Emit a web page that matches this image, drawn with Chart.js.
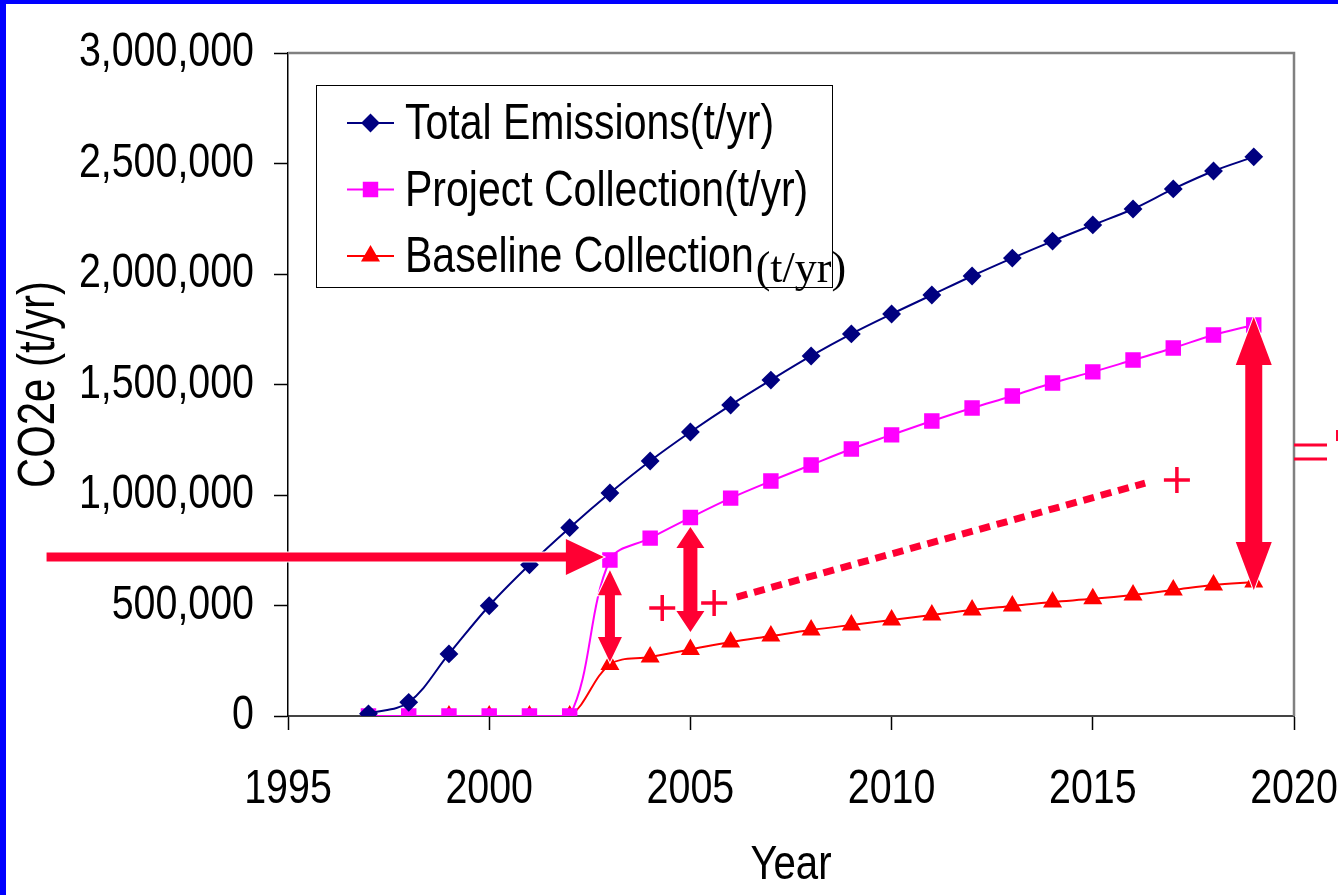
<!DOCTYPE html>
<html>
<head>
<meta charset="utf-8">
<script src="https://cdn.jsdelivr.net/npm/chart.js@4.4.1/dist/chart.umd.min.js"></script>
<style>
  html, body { margin: 0; padding: 0; background: #fff; }
  #frame { width: 1338px; height: 895px; box-sizing: border-box; border-left: 6px solid #0000ff; border-top: 4px solid #0000ff; }
  #frame canvas { display: block; }
</style>
</head>
<body>
<div id="frame"><canvas id="co2Chart" width="1332" height="891"></canvas></div>
<script>
const years = [1997, 1998, 1999, 2000, 2001, 2002, 2003, 2004, 2005, 2006, 2007, 2008,
               2009, 2010, 2011, 2012, 2013, 2014, 2015, 2016, 2017, 2018, 2019];
const totalEmissions = [10000, 62000, 281000, 499000, 684000, 852000, 1009000, 1154000, 1285000,
                        1407000, 1520000, 1629000, 1729000, 1819000, 1905000, 1991000, 2072000,
                        2149000, 2222000, 2294000, 2385000, 2466000, 2530000];
const projectCollection = [0, 0, 0, 0, 0, 0, 706000, 805000, 898000, 986000, 1063000, 1136000,
                           1208000, 1272000, 1335000, 1394000, 1448000, 1507000, 1557000,
                           1611000, 1665000, 1724000, 1769000];
const baselineCollection = [0, 0, 0, 0, 0, 0, 233000, 267000, 301000, 335000, 362000, 389000,
                            412000, 434000, 457000, 480000, 498000, 516000, 530000, 548000,
                            570000, 593000, 606000];
const seriesNames = ['Total Emissions(t/yr)', 'Project Collection(t/yr)', 'Baseline Collection'];
const yTicks = [0, 500000, 1000000, 1500000, 2000000, 2500000, 3000000];
const xTicks = [1995, 2000, 2005, 2010, 2015, 2020];

// hand-drawn overlay marks, in data units
const pointerArrow = [1989.0, 2002.85, 720000];            // xFrom, xTip, y
const gapArrows = [[2003, 660000, 244000], [2005, 855000, 380000], [2019, 1805000, 570000]];
const plusMarks = [[2004.3, 489000], [2005.59, 511000], [2017.09, 1068000]];
const dottedLine = [[2006.15, 538000], [2016.3, 1054000]];
const equalsMark = [2020.0, 2020.82, 1226000, 1163000];

const sansFont = "'Liberation Sans Narrow', 'Arial Narrow', 'Liberation Sans', Arial, sans-serif";
const serifFont = "'Liberation Serif', 'Times New Roman', serif";
const markColor = '#ff0033';
const narrow = 0.82;   // no narrow face installed, squeeze the sans text instead

const ctx = document.getElementById('co2Chart').getContext('2d');
const plainFillText = ctx.fillText;
ctx.fillText = function (text, x, y) {
   this.save();
   this.translate(x, y);
   this.scale(narrow, 1);
   plainFillText.call(this, text, 0, 0);
   this.restore();
};

function toPoints(vals) {
   return years.map((yr, i) => ({ x: yr, y: vals[i] }));
}

function fillPoly(c, pts) {
   c.beginPath();
   pts.forEach((p, i) => i ? c.lineTo(p[0], p[1]) : c.moveTo(p[0], p[1]));
   c.closePath();
   c.strokeStyle = '#fff';
   c.lineWidth = 2;
   c.stroke();
   c.fill();
}

const overlayPlugin = {
   id: 'overlay',
   afterDraw(chart) {
      const { ctx: c, chartArea: a, scales: { x, y } } = chart;
      const ds = chart.data.datasets;
      c.save();

      // plot frame, top and right
      c.strokeStyle = '#808080';
      c.lineWidth = 2.5;
      c.beginPath();
      c.moveTo(a.left, a.top);
      c.lineTo(a.right, a.top);
      c.lineTo(a.right, a.bottom);
      c.stroke();

      c.fillStyle = markColor;
      c.strokeStyle = markColor;

      // long pointer arrow
      const px1 = x.getPixelForValue(pointerArrow[0]);
      const px2 = x.getPixelForValue(pointerArrow[1]);
      const py = y.getPixelForValue(pointerArrow[2]);
      fillPoly(c, [[px1, py - 4.5], [px2 - 38, py - 4.5], [px2 - 38, py - 18], [px2, py],
                   [px2 - 38, py + 18], [px2 - 38, py + 4.5], [px1, py + 4.5]]);

      // double arrows between project and baseline
      const arrowSize = [[5, 12, 25], [7, 14, 21], [8.5, 18, 48]];
      c.fillStyle = markColor;
      gapArrows.forEach((g, i) => {
         const gx = x.getPixelForValue(g[0]);
         const t = y.getPixelForValue(g[1]);
         const b = y.getPixelForValue(g[2]);
         const [sw, hw, hl] = arrowSize[i];
         fillPoly(c, [[gx, t], [gx + hw, t + hl], [gx + sw, t + hl], [gx + sw, b - hl], [gx + hw, b - hl],
                      [gx, b], [gx - hw, b - hl], [gx - sw, b - hl], [gx - sw, t + hl], [gx - hw, t + hl]]);
      });

      // dotted line
      c.strokeStyle = markColor;
      c.lineWidth = 7;
      c.setLineDash([11, 7]);
      c.beginPath();
      c.moveTo(x.getPixelForValue(dottedLine[0][0]), y.getPixelForValue(dottedLine[0][1]));
      c.lineTo(x.getPixelForValue(dottedLine[1][0]), y.getPixelForValue(dottedLine[1][1]));
      c.stroke();
      c.setLineDash([]);

      // plus signs
      c.lineWidth = 3.5;
      plusMarks.forEach(p => {
         const cx = x.getPixelForValue(p[0]);
         const cy = y.getPixelForValue(p[1]);
         c.beginPath();
         c.moveTo(cx - 13, cy); c.lineTo(cx + 13, cy);
         c.moveTo(cx, cy - 13); c.lineTo(cx, cy + 13);
         c.stroke();
      });

      // equals sign past the right edge
      c.lineWidth = 3;
      const ex1 = x.getPixelForValue(equalsMark[0]);
      const ex2 = x.getPixelForValue(equalsMark[1]);
      c.beginPath();
      [equalsMark[2], equalsMark[3]].forEach(v => {
         const ey = y.getPixelForValue(v);
         c.moveTo(ex1, ey); c.lineTo(ex2, ey);
      });
      c.stroke();
      c.fillStyle = markColor;
      c.fillRect(chart.width - 2, y.getPixelForValue(1294000), 2, 11);

      // legend
      const lx = a.left + 28, ly = a.top + 32;
      c.fillStyle = '#fff';
      c.fillRect(lx, ly, 516, 202);
      c.strokeStyle = '#000';
      c.lineWidth = 1;
      c.strokeRect(lx + 0.5, ly + 0.5, 516, 202);
      ds.forEach((d, i) => {
         const base = ly + 54 + i * 66.5;
         const my = base - 16;
         c.strokeStyle = d.borderColor;
         c.lineWidth = 2;
         c.beginPath();
         c.moveTo(lx + 31, my); c.lineTo(lx + 78, my);
         c.stroke();
         c.fillStyle = d.borderColor;
         Chart.helpers.drawPoint(c, { pointStyle: d.pointStyle, radius: d.pointRadius, borderWidth: 1 }, lx + 54.5, my);
         c.fillStyle = '#000';
         c.font = '50px ' + sansFont;
         c.textBaseline = 'alphabetic';
         c.textAlign = 'left';
         c.fillText(d.label, lx + 89, base);
         if (i === 2) {
            const w = c.measureText(d.label).width * narrow;
            c.font = '44px ' + serifFont;
            plainFillText.call(c, '(t/yr)', lx + 89 + w + 2, base + 10);
         }
      });
      c.restore();
   }
};

const co2Chart = new Chart(ctx, {
   type: 'line',
   data: {
      datasets: [{
         label: seriesNames[0],
         data: toPoints(totalEmissions),
         borderColor: '#000080',
         backgroundColor: '#000080',
         pointStyle: 'rectRot',
         pointRadius: 8,
         borderWidth: 2,
         tension: 0.35
      }, {
         label: seriesNames[1],
         data: toPoints(projectCollection),
         borderColor: '#ff00ff',
         backgroundColor: '#ff00ff',
         pointStyle: 'rect',
         pointRadius: 9.5,
         borderWidth: 2,
         tension: 0.35
      }, {
         label: seriesNames[2],
         data: toPoints(baselineCollection),
         borderColor: '#ff0000',
         backgroundColor: '#ff0000',
         pointStyle: 'triangle',
         pointRadius: 9,
         borderWidth: 2,
         tension: 0.35
      }]
   },
   options: {
      responsive: false,
      animation: false,
      layout: { padding: { top: 49, right: 44, left: 0, bottom: 0 } },
      plugins: {
         legend: { display: false },
         tooltip: { enabled: false }
      },
      scales: {
         x: {
            type: 'linear',
            min: 1995,
            max: 2020,
            afterBuildTicks: s => { s.ticks = xTicks.map(v => ({ value: v })); },
            afterFit: s => { s.height = 179; s.paddingLeft = 0; s.paddingRight = 0; },
            grid: { drawOnChartArea: false, drawTicks: true, tickLength: 14, color: '#000', tickWidth: 1.5 },
            border: { color: '#444', width: 2 },
            ticks: {
               font: { family: sansFont, size: 48 },
               color: '#000',
               padding: 31,
               maxRotation: 0,
               autoSkip: false,
               callback: v => String(v)
            },
            title: {
               display: true,
               text: 'Year',
               color: '#000',
               font: { family: sansFont, size: 49 },
               padding: { top: 12, bottom: 0 }
            }
         },
         y: {
            min: 0,
            max: 3000000,
            afterBuildTicks: s => { s.ticks = yTicks.map(v => ({ value: v })); },
            afterFit: s => { s.width = 282; s.paddingTop = 0; s.paddingBottom = 0; },
            grid: { drawOnChartArea: false, drawTicks: true, tickLength: 14, color: '#000', tickWidth: 1.5 },
            border: { color: '#000', width: 1.5 },
            ticks: {
               font: { family: sansFont, size: 48 },
               color: '#000',
               padding: 20,
               callback: v => v.toLocaleString('en-US')
            },
            title: {
               display: true,
               text: 'CO2e (t/yr)',
               color: '#000',
               font: { family: sansFont, size: 51 },
               padding: { top: 3, bottom: 0 }
            }
         }
      }
   },
   plugins: [overlayPlugin]
});
</script>
</body>
</html>
